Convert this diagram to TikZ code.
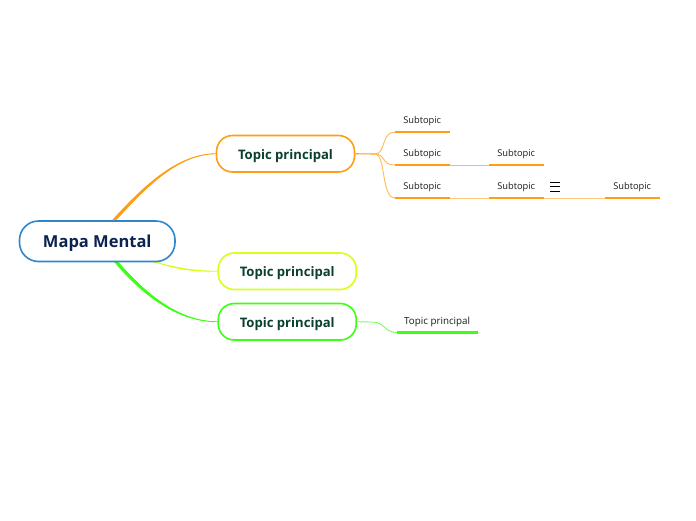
\documentclass[tikz,border=0pt]{standalone}
\usepackage{fontspec}
\setmainfont{Open Sans}
\usetikzlibrary{backgrounds}
\definecolor{cOrange}{HTML}{FF9D14}
\definecolor{cYellow}{HTML}{D6FF1A}
\definecolor{cGreen}{HTML}{3DFF14}
\definecolor{cBlue}{HTML}{2F87C9}
\definecolor{cMainText}{HTML}{0A2351}
\definecolor{cTopicText}{HTML}{0B4030}
\definecolor{cSubText}{HTML}{1A1A1A}
\newcommand{\basedat}[2]{\raisebox{-#1pt}[0pt][0pt]{#2}}
\tikzset{
  x=1pt,y=-1pt,
  mainbox/.style={draw=cBlue,line width=1.6pt,fill=white,rounded corners=19pt,inner sep=0pt,
    minimum width=155.5pt,minimum height=40.5pt,text=cMainText,font=\fontsize{16.5}{18}\selectfont\bfseries},
  topicbox/.style={draw=#1,line width=1.6pt,fill=white,rounded corners=16pt,inner sep=0pt,
    minimum width=138pt,minimum height=36.5pt,text=cTopicText,font=\fontsize{13.1}{15}\selectfont\bfseries},
  subbox/.style={inner sep=0pt,minimum width=55pt,minimum height=24pt,anchor=south west,
    text=cSubText,font=\fontsize{9.3}{11}\selectfont,text depth=0pt},
  bar/.style={draw=#1,line width=2.6pt},
  branch/.style={draw=#1,fill=#1,line width=0.9pt},
  link/.style={draw=#1,line width=1.1pt},
  thinlink/.style={draw=#1!70!white,line width=0.9pt},
  fadelink/.style={draw=#1!55!white,line width=0.9pt},
}
\begin{document}
\begin{tikzpicture}
\useasboundingbox (0,0) rectangle (696,520);
% nodes
\node[mainbox] (main) at (97.25,241.25) {\basedat{6.5}{Mapa Mental}};
\node[topicbox=cOrange] (t1) at (285.5,153.75) {\basedat{5.3}{Topic principal}};
\node[topicbox=cYellow] (t2) at (287.25,271.25) {\basedat{5.3}{Topic principal}};
\node[topicbox=cGreen] (t3) at (287.25,321.75) {\basedat{5.3}{Topic principal}};
\node[subbox] (s1) at (395,132) {\hspace*{-1pt}Subtopic};
\node[subbox] (s2) at (395,165) {\hspace*{-1pt}Subtopic};
\node[subbox] (s2b) at (489,165) {\hspace*{-1pt}Subtopic};
\node[subbox] (s3) at (395,198) {\hspace*{-1pt}Subtopic};
\node[subbox] (s3b) at (489,198) {\hspace*{-1pt}Subtopic};
\node[subbox] (s3c) at (605,198) {\hspace*{-1pt}Subtopic};
\node[subbox,font=\fontsize{9.8}{11}\selectfont,minimum width=81pt,minimum height=23pt] (s4) at (397,332.5) {\hspace*{-1pt}Topic principal};
\coordinate (hub) at (375,154);
\coordinate (hubg) at (372,322);
\coordinate (mo1) at (112,221);
\coordinate (mo2) at (115,221);
\coordinate (my1) at (151,261);
\coordinate (my2) at (154,261);
\coordinate (mg1) at (114,261);
\coordinate (mg2) at (117,261);
\begin{scope}[on background layer]
  % main branches, tapered from the central box
  \draw[branch=cOrange] (mo1) .. controls (147,182) and (180,154) .. (t1.west) .. controls (180,154) and (149,183) .. (mo2) -- cycle;
  \draw[branch=cYellow] (my1) .. controls (175,268) and (195,271.25) .. (t2.west) .. controls (195,271.25) and (176,270) .. (my2) -- cycle;
  \draw[branch=cGreen] (mg1) .. controls (145,298) and (180,321.75) .. (t3.west) .. controls (180,321.75) and (147,296) .. (mg2) -- cycle;
  % subtopic links
  \draw[link=cOrange] (t1.east) -- (hub);
  \draw[thinlink=cOrange] (hub) .. controls (386,154) and (381,132) .. (s1.south west);
  \draw[thinlink=cOrange] (hub) .. controls (386,154) and (381,165) .. (s2.south west);
  \draw[thinlink=cOrange] (hub) .. controls (386,154) and (381,198) .. (s3.south west);
  \draw[thinlink=cOrange] (s2.south east) -- (s2b.south west);
  \draw[fadelink=cOrange] (s3.south east) -- (s3b.south west);
  \draw[fadelink=cOrange] (s3b.south east) -- (s3c.south west);
  \draw[thinlink=cGreen] (t3.east) -- (hubg) .. controls (385,322) and (384,332.5) .. (s4.south west);
\end{scope}
% underlines
\foreach \n in {s1,s2,s3,s2b,s3b,s3c} \draw[bar=cOrange] (\n.south west) -- (\n.south east);
\draw[bar=cGreen] (s4.south west) -- (s4.south east);
% note icon
\draw[black,line width=1pt] (550,182) -- (560,182) (550,186.5) -- (560,186.5) (550,191) -- (560,191);
\end{tikzpicture}
\end{document}
